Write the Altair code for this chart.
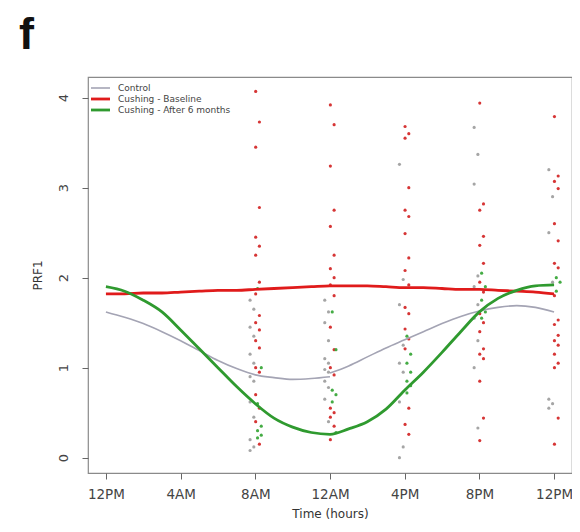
import altair as alt
import pandas as pd

# ---------------- data ----------------
groups = ["Control", "Cushing - Baseline", "Cushing - After 6 months"]
colors = ["#a4a4b4", "#e01b1b", "#2f9a2f"]
point_colors = ["#a0a0a0", "#d42a2a", "#3aa83a"]
panel_letter = "f"

tick_hours = [0, 4, 8, 12, 16, 20, 24]
tick_labels = ["12PM", "4AM", "8AM", "12AM", "4PM", "8PM", "12PM"]

# fitted curves, one value per hour
curve_hours = list(range(0, 25))
control_am = [1.62, 1.56, 1.49, 1.40, 1.30, 1.19, 1.08, 0.99, 0.92, 0.89, 0.87, 0.88, 0.90]
control_pm = [0.94, 1.02, 1.12, 1.22, 1.31, 1.40, 1.49, 1.57, 1.63, 1.67, 1.69, 1.67, 1.62]
baseline_curve = [1.82, 1.82, 1.83, 1.83, 1.84, 1.85, 1.86, 1.86, 1.87, 1.88, 1.89, 1.90, 1.91,
                  1.91, 1.91, 1.90, 1.89, 1.89, 1.88, 1.87, 1.87, 1.86, 1.85, 1.84, 1.82]
after_curve = [1.90, 1.85, 1.75, 1.62, 1.42, 1.21, 1.00, 0.79, 0.60, 0.44, 0.34, 0.28, 0.26,
               0.32, 0.40, 0.54, 0.75, 0.95, 1.17, 1.40, 1.62, 1.77, 1.86, 1.91, 1.92]

# individual samples per sampling time
sample_hours = [8, 12, 16, 20, 24]
control_pts = [
    [1.75, 1.65, 1.45, 1.35, 1.15, 1.05, 0.90, 0.85, 0.62, 0.45, 0.20, 0.12, 0.08],
    [1.75, 1.62, 1.50, 1.30, 1.10, 1.05, 0.98, 0.95, 0.85, 0.78, 0.65, 0.40],
    [3.26, 1.98, 1.70, 1.25, 1.05, 0.95, 0.62, 0.12, 0.00],
    [3.67, 3.37, 3.04, 2.02, 1.90, 1.70, 1.55, 1.30, 1.00, 0.33],
    [3.20, 2.90, 2.50, 1.95, 0.65, 0.60, 0.55],
]
baseline_pts = [
    [4.07, 3.73, 3.45, 2.78, 2.45, 2.35, 2.25, 1.95, 1.82, 1.58, 1.50, 1.42, 1.30, 1.22, 1.00,
     0.95, 0.70, 0.55, 0.40, 0.15],
    [3.92, 3.70, 3.24, 2.75, 2.57, 2.25, 2.10, 2.00, 1.92, 1.80, 1.45, 1.20, 1.00, 0.92, 0.55,
     0.50, 0.45, 0.35, 0.20],
    [3.68, 3.60, 3.55, 3.00, 2.75, 2.68, 2.49, 2.22, 2.08, 1.92, 1.67, 1.60, 1.43, 1.32, 1.21,
     0.55, 0.37, 0.26],
    [3.94, 2.82, 2.75, 2.46, 2.36, 2.16, 1.95, 1.84, 1.60, 1.50, 1.40, 1.21, 1.15, 1.10, 0.85,
     0.44, 0.19],
    [3.79, 3.13, 3.07, 2.99, 2.60, 2.41, 2.16, 2.11, 1.80, 1.53, 1.48, 1.36, 1.30, 1.25, 1.15,
     1.05, 1.00, 0.44, 0.15],
]
after_pts = [
    [1.88, 1.00, 0.60, 0.35, 0.30, 0.25, 0.22],
    [1.62, 1.20, 0.75, 0.70, 0.62, 0.28],
    [1.35, 1.15, 1.05, 0.95, 0.85, 0.80, 0.72],
    [2.05, 1.90, 1.75, 1.62, 1.55],
    [2.00, 1.95, 1.85],
]

# ---------------- tables ----------------
rows = []
for h, v in zip(curve_hours[:13], control_am):
    rows.append({"hour": h, "value": v, "group": groups[0], "seg": "c1"})
for h, v in zip(curve_hours[12:], control_pm):
    rows.append({"hour": h, "value": v, "group": groups[0], "seg": "c2"})
for h, v in zip(curve_hours, baseline_curve):
    rows.append({"hour": h, "value": v, "group": groups[1], "seg": "b"})
for h, v in zip(curve_hours, after_curve):
    rows.append({"hour": h, "value": v, "group": groups[2], "seg": "a"})
curves = pd.DataFrame(rows)

group_shift = {groups[0]: -0.18, groups[1]: 0.12, groups[2]: 0.22}
pts = []
for g, table in zip(groups, [control_pts, baseline_pts, after_pts]):
    for h, vals in zip(sample_hours, table):
        for i, v in enumerate(vals):
            pts.append({"hour": h + group_shift[g] + (0.1 if i % 2 else -0.1),
                        "value": v, "group": g})
points = pd.DataFrame(pts)

# ---------------- chart ----------------
label_expr = "[" + ",".join("'%s'" % t for t in tick_labels) + "][datum.value/4]"

xscale = alt.Scale(domain=[-0.96, 24.96], nice=False, zero=False)
yscale = alt.Scale(domain=[-0.17, 4.23], nice=False, zero=False)

xaxis = alt.Axis(values=tick_hours, labelExpr=label_expr, title="Time (hours)",
                 labelPadding=8, titlePadding=8, labelFontSize=13.5, titleFontSize=12)
yaxis = alt.Axis(values=[0, 1, 2, 3, 4], format="d", title="PRF1", labelAngle=270,
                 labelAlign="center", labelBaseline="bottom", labelPadding=12,
                 titlePadding=13, labelFontSize=13, titleFontSize=12)

color_scale = alt.Scale(domain=groups, range=colors)

pt_layer = alt.Chart(points).mark_point(filled=True, size=10, opacity=0.95).encode(
    x=alt.X("hour:Q", scale=xscale, axis=xaxis),
    y=alt.Y("value:Q", scale=yscale, axis=yaxis),
    fill=alt.Fill("group:N", scale=alt.Scale(domain=groups, range=point_colors), legend=None),
)

control_line = alt.Chart(curves).transform_filter(
    alt.datum.group == groups[0]
).mark_line(interpolate="monotone", strokeWidth=1.6).encode(
    x=alt.X("hour:Q", scale=xscale),
    y=alt.Y("value:Q", scale=yscale),
    detail="seg:N",
    stroke=alt.Stroke("group:N", scale=color_scale, legend=None),
)

cushing_lines = alt.Chart(curves).transform_filter(
    alt.datum.group != groups[0]
).mark_line(interpolate="monotone", strokeWidth=2.8).encode(
    x=alt.X("hour:Q", scale=xscale),
    y=alt.Y("value:Q", scale=yscale),
    detail="seg:N",
    stroke=alt.Stroke("group:N", scale=color_scale, legend=None),
)

# legend drawn inside the top-left of the plot, R style
one = pd.DataFrame({"k": [0]})
legend_layers = []
for i, (g, c) in enumerate(zip(groups, colors)):
    yy = 11 + 11 * i
    legend_layers.append(
        alt.Chart(one).mark_rule(color=c, strokeWidth=2.8 if i else 1.6).encode(
            x=alt.value(3), x2=alt.value(22), y=alt.value(yy)))
    legend_layers.append(
        alt.Chart(one).mark_text(align="left", baseline="middle", fontSize=9,
                                 font="DejaVu Sans", color="#444").encode(
            x=alt.value(30), y=alt.value(yy), text=alt.value(g)))

letter = alt.Chart(one).mark_text(align="left", baseline="alphabetic", fontSize=45,
                                  fontWeight="bold", font="Liberation Sans",
                                  color="#111").encode(
    x=alt.value(-69), y=alt.value(-28), text=alt.value(panel_letter))

chart = alt.layer(pt_layer, control_line, cushing_lines, *legend_layers, letter).properties(
    width=484, height=396,
    autosize=alt.AutoSizeParams(type="none"),
    padding={"left": 80, "top": 69, "right": 0, "bottom": 51},
).configure_view(
    stroke="#8a8a8a", strokeWidth=1.2
).configure_axis(
    grid=False, domain=False, tickColor="#666", tickSize=6, labelColor="#444",
    titleColor="#333", labelFont="DejaVu Sans", titleFont="DejaVu Sans", titleFontWeight="normal"
)

chart.save("out.html", embed_options={"renderer": "svg", "actions": False})
